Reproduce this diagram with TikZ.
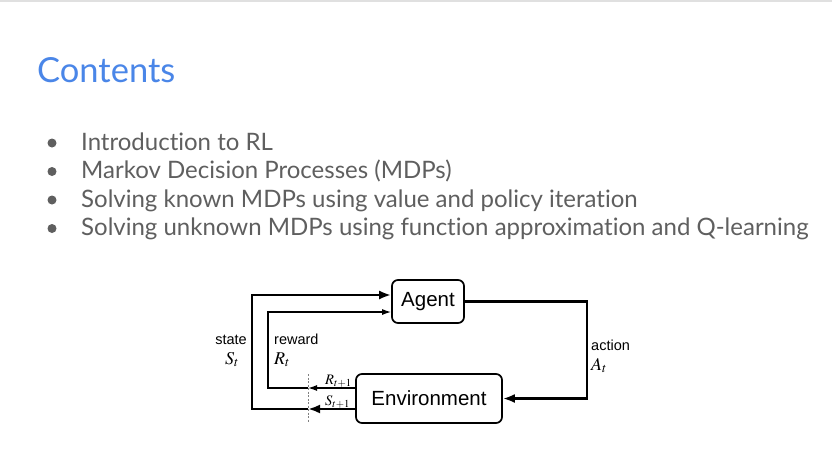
\documentclass[tikz,border=0pt]{standalone}
\usepackage{mathptmx}
\usepackage{fontspec}
\setmainfont{Liberation Sans}
\newfontfamily\slidefont{Lato}[Ligatures=NoCommon]
\usepackage{xcolor}
\usetikzlibrary{arrows.meta,positioning}

\definecolor{titleblue}{HTML}{4A86E8}
\definecolor{slidegray}{HTML}{5F5F5F}

\tikzset{
  box/.style = {shape=rectangle, rounded corners=6pt, draw, line width=1.7pt,
    font=\fontsize{20.5}{24}\selectfont, inner sep=0pt},
  heavy/.style = {line width=2.8pt, -{Latex[length=12pt,width=9pt]}},
  light/.style = {line width=1.3pt, -{Latex[length=9pt,width=6pt]}},
  lbl/.style = {font=\fontsize{14.5}{17}\selectfont, inner sep=0pt},
  var/.style = {font=\fontsize{18}{20}\selectfont, inner sep=0pt},
  sub/.style = {font=\fontsize{14.5}{16}\selectfont, inner sep=0pt},
  item/.style = {font=\slidefont\fontsize{24}{28}\selectfont, text=slidegray,
    anchor=base west, inner sep=0pt},
  dot/.style = {circle, fill=slidegray, minimum size=9pt, inner sep=0pt}
}

\begin{document}
\begin{tikzpicture}[x=1pt, y=-1pt]
    \useasboundingbox (0,0) rectangle (832,464);
    \fill[white] (0,0) rectangle (832,464);
    \draw[black!12, line width=1.5pt] (0,1) -- (832,1);

    % slide text
    \node[font=\slidefont\fontsize{34.5}{38}\selectfont, text=titleblue,
      anchor=base west, inner sep=0pt] (title) at (37,82) {Contents};
    \node[item] (i1) at (81,150) {Introduction to RL};
    \node[item] (i2) at (81,178.5) {Markov Decision Processes (MDPs)};
    \node[item] (i3) at (81,207) {Solving known MDPs using value and policy iteration};
    \node[item] (i4) at (81,235.5) {Solving unknown MDPs using function approximation and Q-learning};
    \foreach \i in {1,...,4}
      \node[dot] (d\i) at ([xshift=-29pt, yshift=7pt]i\i.base west) {};

    % agent-environment loop
    \node[box, minimum width=72pt, minimum height=43pt] (agent) at (428,301.5) {Agent};
    \node[box, minimum width=146pt, minimum height=49pt] (env) at (429,398.5) {Environment};

    \coordinate (actx) at (587,0);
    \coordinate (stx) at (252,0);
    \coordinate (rwx) at (268,0);
    \coordinate (cut) at (308,0);
    \coordinate (sEnv) at ([yshift=-10.5pt]env.west);
    \coordinate (rEnv) at ([yshift=10.5pt]env.west);
    \coordinate (sAg) at ([yshift=6.5pt]agent.west);
    \coordinate (rAg) at ([yshift=-10.5pt]agent.west);

    \draw[heavy] (agent.east) -- (agent.east -| actx) |- (env.east);
    \draw[heavy] (sEnv) -- (sEnv -| cut);
    \draw[heavy] (sEnv -| cut) -- (sEnv -| stx) |- (sAg);
    \draw[light] (rEnv) -- (rEnv -| cut);
    \draw[light] (rEnv -| cut) -- (rEnv -| rwx) |- (rAg);
    \draw[gray, line width=0.8pt, dash pattern=on 2pt off 1.5pt] (308,374) -- (308,423);

    \node[lbl, anchor=base east] (state) at (247,344) {state};
    \node[var, anchor=base] (st) at (232,364) {$S_t$};
    \node[lbl, anchor=base west] (reward) at (274,344) {reward};
    \node[var, anchor=base west] (rt) at (274,364) {$R_t$};
    \node[lbl, anchor=base west] (action) at (591,350) {action};
    \node[var, anchor=base west] (at) at (591,370) {$A_t$};
    \node[sub, anchor=base west] (rt1) at (325,384) {$R_{t+1}$};
    \node[sub, anchor=base west] (st1) at (325,405) {$S_{t+1}$};
\end{tikzpicture}
\end{document}
